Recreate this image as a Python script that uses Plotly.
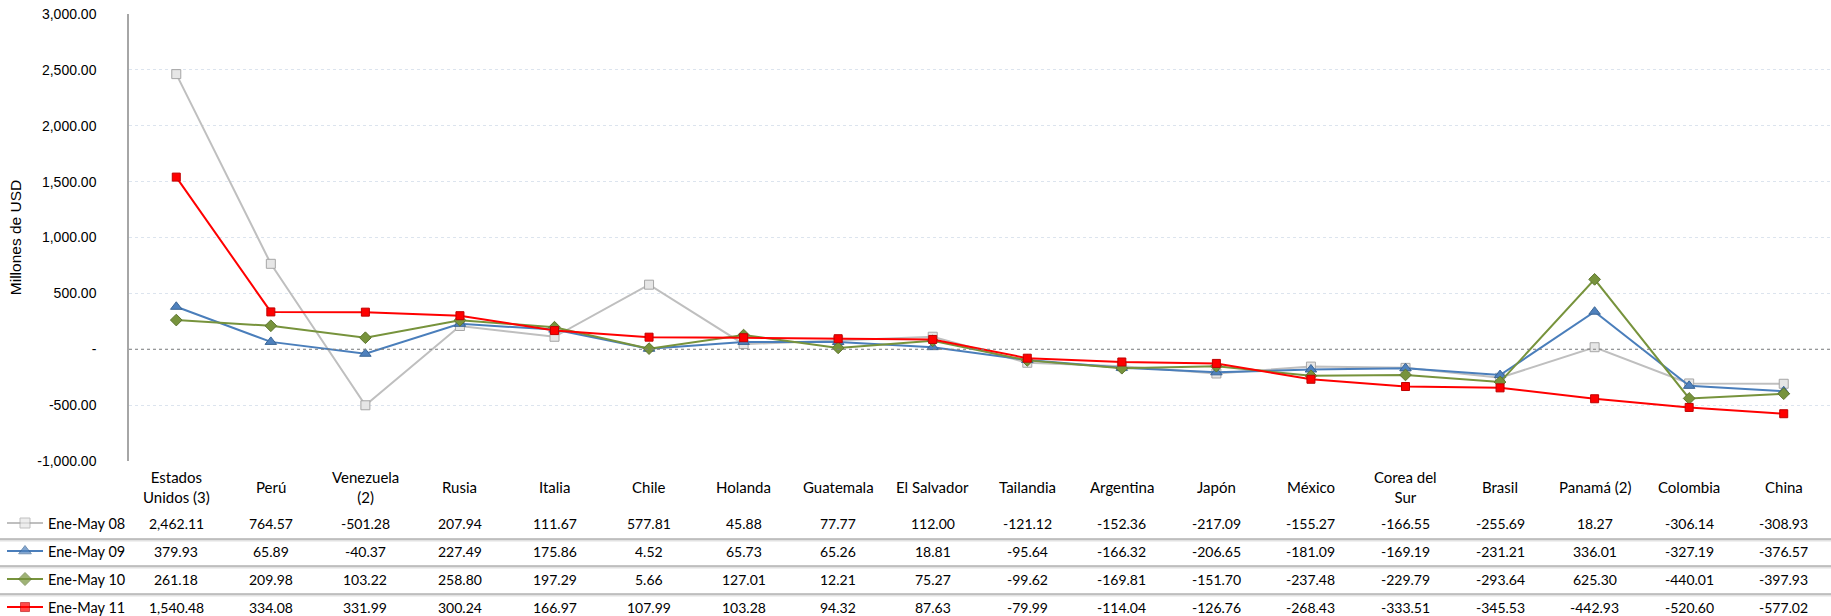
import plotly.graph_objects as go

W, H = 1831, 616

countries = ["Estados<br>Unidos (3)", "Perú", "Venezuela<br>(2)", "Rusia", "Italia", "Chile",
             "Holanda", "Guatemala", "El Salvador", "Tailandia", "Argentina", "Japón",
             "México", "Corea del<br>Sur", "Brasil", "Panamá (2)", "Colombia", "China"]

may08 = [2462.11, 764.57, -501.28, 207.94, 111.67, 577.81, 45.88, 77.77, 112.00,
         -121.12, -152.36, -217.09, -155.27, -166.55, -255.69, 18.27, -306.14, -308.93]
may09 = [379.93, 65.89, -40.37, 227.49, 175.86, 4.52, 65.73, 65.26, 18.81,
         -95.64, -166.32, -206.65, -181.09, -169.19, -231.21, 336.01, -327.19, -376.57]
may10 = [261.18, 209.98, 103.22, 258.80, 197.29, 5.66, 127.01, 12.21, 75.27,
         -99.62, -169.81, -151.70, -237.48, -229.79, -293.64, 625.30, -440.01, -397.93]
may11 = [1540.48, 334.08, 331.99, 300.24, 166.97, 107.99, 103.28, 94.32, 87.63,
         -79.99, -114.04, -126.76, -268.43, -333.51, -345.53, -442.93, -520.60, -577.02]

series_names = ["Ene-May 08", "Ene-May 09", "Ene-May 10", "Ene-May 11"]
series_values = [may08, may09, may10, may11]

y_ticks = [-1000, -500, 0, 500, 1000, 1500, 2000, 2500, 3000]

styles = [
    dict(line="#BFBFBF", marker="#E6E6E6", edge="#A6A6A6", symbol="square", size=9),
    dict(line="#4A7EBB", marker="#4F81BD", edge="#3A6595", symbol="triangle-up", size=10),
    dict(line="#77933C", marker="#77933C", edge="#5E7530", symbol="diamond", size=9),
    dict(line="#FF0000", marker="#FF0000", edge="#C00000", symbol="square", size=8),
]

FONT = "Lato"
px_x = lambda v: v / W
px_y = lambda v: 1 - v / H

fig = go.Figure()
idx = list(range(len(countries)))

for name, vals, st in zip(series_names, series_values, styles):
    fig.add_trace(go.Scatter(
        x=idx, y=vals, name=name, mode="lines+markers",
        line=dict(color=st["line"], width=2),
        marker=dict(symbol=st["symbol"], size=st["size"], color=st["marker"],
                    line=dict(color=st["edge"], width=1)),
        showlegend=False,
    ))

# legend keys inside the data table
for i, st in enumerate(styles):
    fig.add_trace(go.Scatter(
        x=[7, 25, 43], y=[i, i, i], mode="lines+markers", xaxis="x2", yaxis="y2",
        line=dict(color=st["line"], width=2),
        marker=dict(symbol=st["symbol"], size=[0, st["size"] + 1, 0], color=st["marker"],
                    line=dict(color=st["edge"], width=1)),
        showlegend=False, hoverinfo="skip",
    ))

def fmt(v):
    if v == 0:
        return "-"
    return f"{v:,.2f}"

annotations = []
# category header row
for i, c in enumerate(countries):
    annotations.append(dict(x=i, xref="x", y=px_y(487), yref="paper", text=c,
                            showarrow=False, xanchor="center", yanchor="middle",
                            font=dict(family=FONT, size=15, color="#000000")))
row_y = [523, 551, 579, 607]
for r, (name, vals) in enumerate(zip(series_names, series_values)):
    annotations.append(dict(x=px_x(46), xref="paper", y=px_y(row_y[r]), yref="paper",
                            text=name, showarrow=False, xanchor="left", yanchor="middle",
                            font=dict(family=FONT, size=14.5, color="#000000")))
    for i, v in enumerate(vals):
        annotations.append(dict(x=i, xref="x", y=px_y(row_y[r]), yref="paper",
                                text=fmt(v), showarrow=False, xanchor="center",
                                yanchor="middle",
                                font=dict(family=FONT, size=14, color="#000000")))

shapes = [dict(type="line", xref="paper", x0=px_x(129), x1=1, yref="y", y0=0, y1=0,
               line=dict(color="#7F7F7F", width=1, dash="dot"))]
for yy in [539, 566, 594]:
    shapes.append(dict(type="line", xref="paper", x0=0, x1=1, yref="paper",
                       y0=px_y(yy + 1.5), y1=px_y(yy + 1.5),
                       line=dict(color="#E2E2E2", width=2)))
    shapes.append(dict(type="line", xref="paper", x0=0, x1=1, yref="paper",
                       y0=px_y(yy), y1=px_y(yy),
                       line=dict(color="#8C8C8C", width=1.2)))

fig.update_layout(
    width=W, height=H,
    margin=dict(l=0, r=0, t=0, b=0),
    paper_bgcolor="white", plot_bgcolor="white",
    font=dict(family="Liberation Sans", size=13, color="#000000"),
    xaxis=dict(domain=[px_x(129), 1], range=[-0.5, 17.5], showticklabels=False,
               showgrid=False, zeroline=False, showline=False, ticks=""),
    yaxis=dict(domain=[px_y(461), px_y(14)], range=[-1000, 3000],
               tickvals=y_ticks, ticktext=[fmt(v) for v in y_ticks],
               tickfont=dict(family="Liberation Sans", size=14, color="#000000"),
               ticks="outside", ticklen=28, tickcolor="rgba(0,0,0,0)",
               showgrid=True, gridcolor="#DCE4EE", griddash="dot", gridwidth=1,
               zeroline=False, showline=True, linecolor="#A6A6A6", linewidth=1.5,
               automargin=False,
               title=dict(text="Millones de USD", standoff=12,
                          font=dict(family="Liberation Sans", size=15.5))),
    xaxis2=dict(domain=[0, px_x(50)], range=[0, 50], visible=False, anchor="y2"),
    yaxis2=dict(domain=[0, px_y(509)], range=[3.32, -0.5], visible=False, anchor="x2"),
    annotations=annotations,
    shapes=shapes,
)

fig.write_html("out.html", config={"displayModeBar": False},
               post_script="document.body.style.margin='0';")
